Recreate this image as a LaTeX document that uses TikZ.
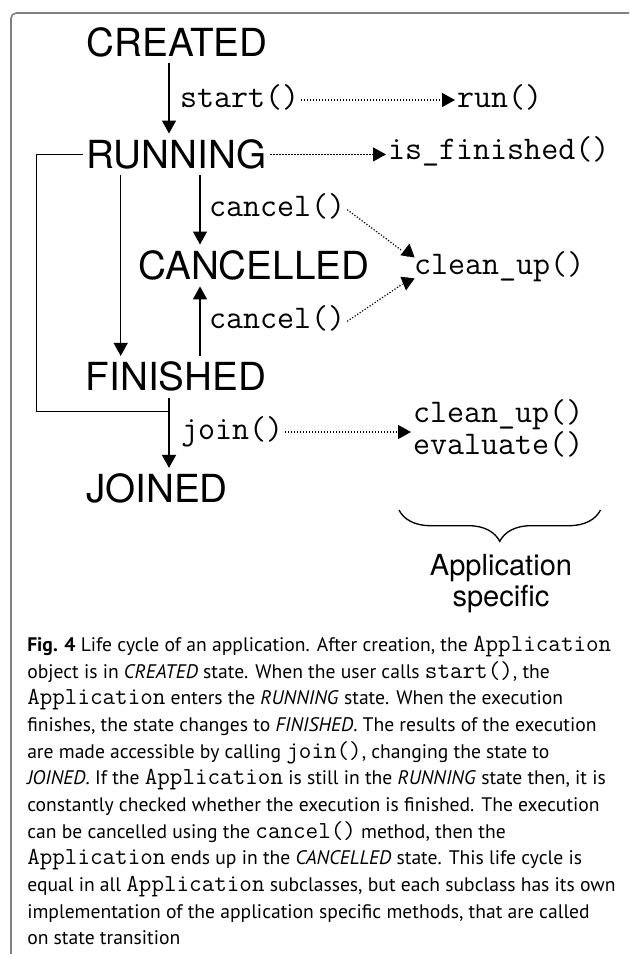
\documentclass[tikz,border=0pt]{standalone}
\usepackage{fontspec}
\setmainfont{PT Sans}
\newfontfamily\heros{TeX Gyre Heros}
\usetikzlibrary{arrows.meta,decorations.pathreplacing}
\newcommand\mcode[1]{{\ttfamily\fontsize{18.3pt}{20pt}\selectfont #1}}
\tikzset{
  state/.style={font=\heros\fontsize{29pt}{30pt}\selectfont, inner sep=0pt, outer xsep=3pt, outer ysep=5.3pt, text height=20.8pt, text depth=0pt, anchor=base},
  meth/.style={font=\ttfamily\fontsize{24.8pt}{21pt}\selectfont, inner sep=0pt, outer sep=1.5pt, text height=10.5pt, text depth=0pt, anchor=base west},
  conn/.style={line width=1.1pt},
  arr/.style={conn, -{Triangle[length=9.75pt,width=10.5pt]}},
  dotline/.style={line width=0.9pt, dash pattern=on 0.9pt off 1.35pt},
  dotarr/.style={dotline, -{Triangle[length=9.75pt,width=10.5pt]}},
  frame/.style={draw=black!50, line width=1.2pt, rounded corners=4pt}
}
\begin{document}
\begin{tikzpicture}[x=0.75pt,y=-0.75pt]
\useasboundingbox (0,0) rectangle (629,954);
\draw[frame] (11,954) -- (11,13) -- (629,13);

% states
\node[state] (created)   at (177,56)    {CREATED};
\node[state] (running)   at (176.5,168.3) {RUNNING};
\node[state] (cancelled) at (254,279.3) {CANCELLED};
\node[state] (finished)  at (176,390.7) {FINISHED};
\node[state] (joined)    at (157,502.7) {JOINED};

% methods
\node[meth] (start)   at (178,107)   {start()};
\node[meth] (run)     at (455,107)   {run()};
\node[meth] (isfin)   at (386,159)   {is\_finished()};
\node[meth] (cancel1) at (207,216.7) {cancel()};
\node[meth] (cancel2) at (207,328.3) {cancel()};
\node[meth] (clean1)  at (412,274)   {clean\_up()};
\node[meth] (join)    at (179,439)   {join()};
\node[meth, align=left, text height=, text depth=] (methods) at (411,454) {clean\_up()\\evaluate()};

% columns
\coordinate (colA) at (120.7,0);
\coordinate (colB) at (169,0);
\coordinate (colC) at (200,0);
\coordinate (colL) at (36.7,0);
\coordinate (jn) at (169,411.7);

% state transitions
\draw[arr] (created.south -| colB) -- (running.north -| colB);
\draw[arr] (running.south -| colA) -- (finished.north -| colA);
\draw[arr] (running.south -| colC) -- (cancelled.north -| colC);
\draw[arr] (finished.north -| colC) -- (cancelled.south -| colC);
\draw[arr] (finished.south -| colB) -- (joined.north -| colB);
\draw[conn] (running.west) -- (running.west -| colL) |- (jn);

% method calls
\draw[dotarr] (start.east) -- (run.west);
\draw[dotarr] (running.east) -- (running.east -| isfin.west);
\draw[dotarr] (join.east) -- (join.east -| methods.west);
\draw[dotline] (cancel1.east) -- ([shift={(-9.5,-16)}]clean1.west);
\draw[conn, -{Triangle[length=9.75pt,width=10.5pt]}] ([shift={(-4.5,-10.5)}]clean1.west) -- ([shift={(-2.5,-23.5)}]clean1.west);
\draw[dotline] (cancel2.east) -- ([shift={(-9.5,17)}]clean1.west);
\draw[conn, -{Triangle[length=9.75pt,width=10.5pt]}] ([shift={(-4.5,10.5)}]clean1.west) -- ([shift={(-6,23.5)}]clean1.west);

% brace
\draw[line width=1pt, decorate, decoration={brace, mirror, amplitude=23.5pt}] (399,510) -- (600.5,510);
\node[font=\heros\fontsize{21.8pt}{23.25pt}\selectfont, align=center, anchor=base, inner sep=0pt] (appspec) at (501,606) {Application\\specific};

% caption
\node[anchor=base west, inner sep=0pt, align=left, font=\fontsize{14.7pt}{20pt}\selectfont] (caption) at (27,944.7) {%
\textbf{Fig. 4} Life cycle of an application. After creation, the \mcode{Application}\\
object is in \textit{CREATED} state. When the user calls \mcode{start()}, the\\
\mcode{Application} enters the \textit{RUNNING} state. When the execution\\
finishes, the state changes to \textit{FINISHED}. The results of the execution\\
are made accessible by calling \mcode{join()}, changing the state to\\
\textit{JOINED}. If the \mcode{Application} is still in the \textit{RUNNING} state then, it is\\
constantly checked whether the execution is finished. The execution\\
can be cancelled using the \mcode{cancel()} method, then the\\
\mcode{Application} ends up in the \textit{CANCELLED} state. This life cycle is\\
equal in all \mcode{Application} subclasses, but each subclass has its own\\
implementation of the application specific methods, that are called\\
on state transition};
\end{tikzpicture}
\end{document}
